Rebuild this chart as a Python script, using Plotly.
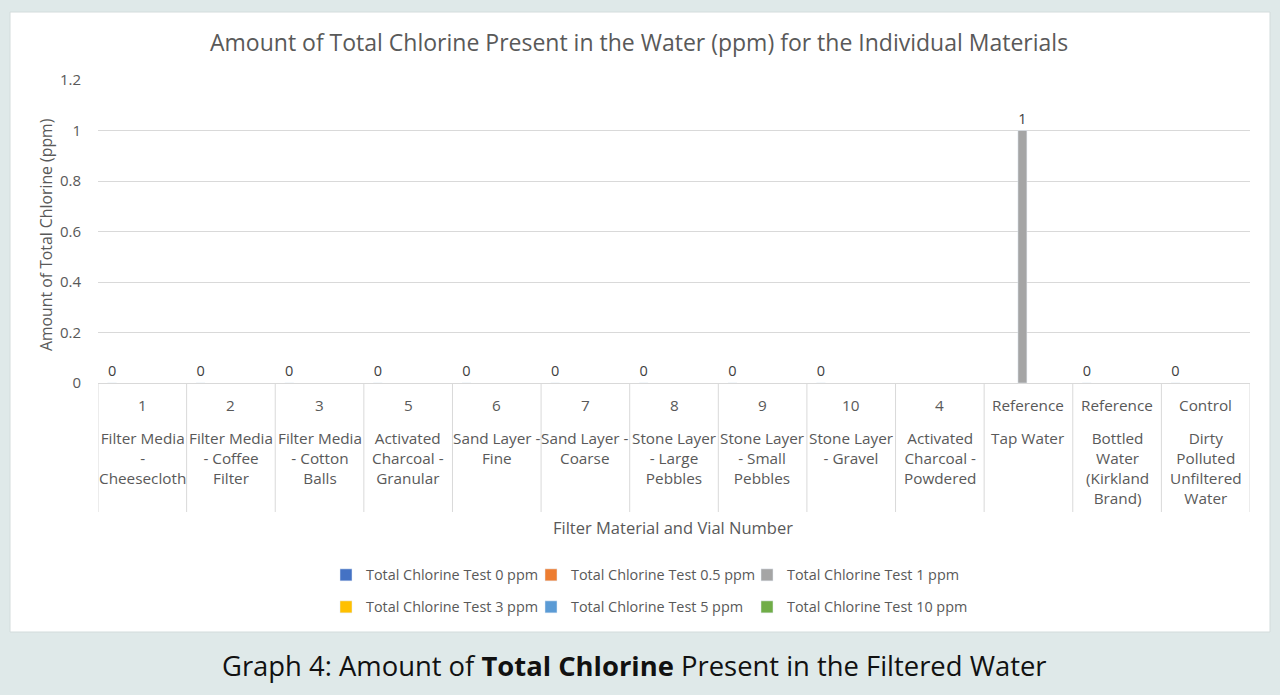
import plotly.graph_objects as go

# categories: vial number (top row) and filter material (bottom row)
vial_numbers = ["1", "2", "3", "5", "6", "7", "8", "9", "10", "4",
                "Reference", "Reference", "Control"]
materials = [
    "Filter Media<br>-<br>Cheesecloth",
    "Filter Media<br>- Coffee<br>Filter",
    "Filter Media<br>- Cotton<br>Balls",
    "Activated<br>Charcoal -<br>Granular",
    "Sand Layer -<br>Fine",
    "Sand Layer -<br>Coarse",
    "Stone Layer<br>- Large<br>Pebbles",
    "Stone Layer<br>- Small<br>Pebbles",
    "Stone Layer<br>- Gravel",
    "Activated<br>Charcoal -<br>Powdered",
    "Tap Water",
    "Bottled<br>Water<br>(Kirkland<br>Brand)",
    "Dirty<br>Polluted<br>Unfiltered<br>Water",
]

series_names = ["Total Chlorine Test 0 ppm", "Total Chlorine Test 0.5 ppm",
                "Total Chlorine Test 1 ppm", "Total Chlorine Test 3 ppm",
                "Total Chlorine Test 5 ppm", "Total Chlorine Test 10 ppm"]
test_0 = [0, 0, 0, 0, 0, 0, 0, 0, 0, None, None, 0, 0]
test_05 = [None] * 13
test_1 = [None, None, None, None, None, None, None, None, None, None, 1, None, None]
test_3 = [None] * 13
test_5 = [None] * 13
test_10 = [None] * 13
series_values = [test_0, test_05, test_1, test_3, test_5, test_10]
colors = ["#4472C4", "#ED7D31", "#A5A5A5", "#FFC000", "#5B9BD5", "#70AD47"]

FONT = "Open Sans"
GREY = "#595959"
W, H = 1280, 695


def py(px):
    return 1 - px / H


x_keys = list(range(len(vial_numbers)))

# one legend per series so the two rows of three sit where the original has them
legend_ids = ["legend", "legend2", "legend3", "legend4", "legend5", "legend6"]
legend_x = [326, 531, 747, 326, 531, 747]
legend_y = [575, 575, 575, 607, 607, 607]

fig = go.Figure()
for i, (name, vals, col) in enumerate(zip(series_names, series_values, colors)):
    fig.add_trace(go.Bar(
        x=x_keys, y=vals, name=name, marker_color=col,
        text=[("%g" % v) if v is not None else "" for v in vals],
        textposition="outside", cliponaxis=False,
        textfont=dict(family=FONT, size=14.5, color="#404040"),
        legend=legend_ids[i], showlegend=True,
    ))

# white chart panel on the tinted page
shapes = [dict(type="rect", xref="paper", yref="paper", x0=10 / W, x1=1270 / W,
               y0=py(632), y1=py(12), fillcolor="white",
               line=dict(color="#d3dcdc", width=1), layer="below")]
# category box separators below the axis
for k in range(len(vial_numbers) + 1):
    shapes.append(dict(type="line", xref="x", yref="paper", x0=k - 0.5, x1=k - 0.5,
                       y0=py(383), y1=py(512), line=dict(color="#d9d9d9", width=1)))


def label(text, x, y, size, color=GREY, **kw):
    d = dict(text=text, x=x, y=y, xref="paper", yref="paper", showarrow=False,
             xanchor="center", yanchor="middle",
             font=dict(family=FONT, size=size, color=color))
    d.update(kw)
    return d


annotations = [
    label("Amount of Total Chlorine Present in the Water (ppm) for the Individual Materials",
          639 / W, py(42), 23),
    label("Amount of Total Chlorine (ppm)", 46 / W, py(235), 15.8, textangle=-90),
    label("Filter Material and Vial Number", 673 / W, py(527), 16.5),
    label("Graph 4: Amount of <b>Total Chlorine</b> Present in the Filtered Water",
          634 / W, py(665), 27.4, color="#111111"),
]
for k, (num, mat) in enumerate(zip(vial_numbers, materials)):
    annotations.append(label(num, k, py(405), 15.3, xref="x"))
    annotations.append(label(mat, k, py(426), 15.3, xref="x", yanchor="top", align="center"))

legends = {}
for lid, lx, ly in zip(legend_ids, legend_x, legend_y):
    legends[lid] = dict(orientation="h", x=lx / W, y=py(ly), xanchor="left", yanchor="middle",
                        itemwidth=30, font=dict(family=FONT, size=14.4, color=GREY),
                        bgcolor="rgba(0,0,0,0)", visible=True)

fig.update_layout(
    width=W, height=H,
    margin=dict(l=0, r=0, t=0, b=0, autoexpand=False),
    paper_bgcolor="#dfe9e9",
    plot_bgcolor="rgba(0,0,0,0)",
    showlegend=True,
    barmode="group", bargap=0.18, bargroupgap=0.26,
    font=dict(family=FONT, size=14, color=GREY),
    xaxis=dict(domain=[98 / W, 1250 / W], range=[-0.5, 12.5], showticklabels=False,
               showgrid=False, zeroline=False, showline=False, ticks="", automargin=False),
    yaxis=dict(domain=[py(383), py(80)], range=[0, 1.2], dtick=0.2,
               showgrid=True, gridcolor="#d9d9d9", gridwidth=1,
               zeroline=True, zerolinecolor="#d9d9d9", zerolinewidth=1,
               tickfont=dict(family=FONT, size=15, color=GREY), ticks="",
               ticklabelstandoff=16, tickformat="~g", automargin=False),
    shapes=shapes,
    annotations=annotations,
    **legends,
)

fig.write_html("out.html", config={"displayModeBar": False},
               post_script="document.body.style.margin='0px';")
